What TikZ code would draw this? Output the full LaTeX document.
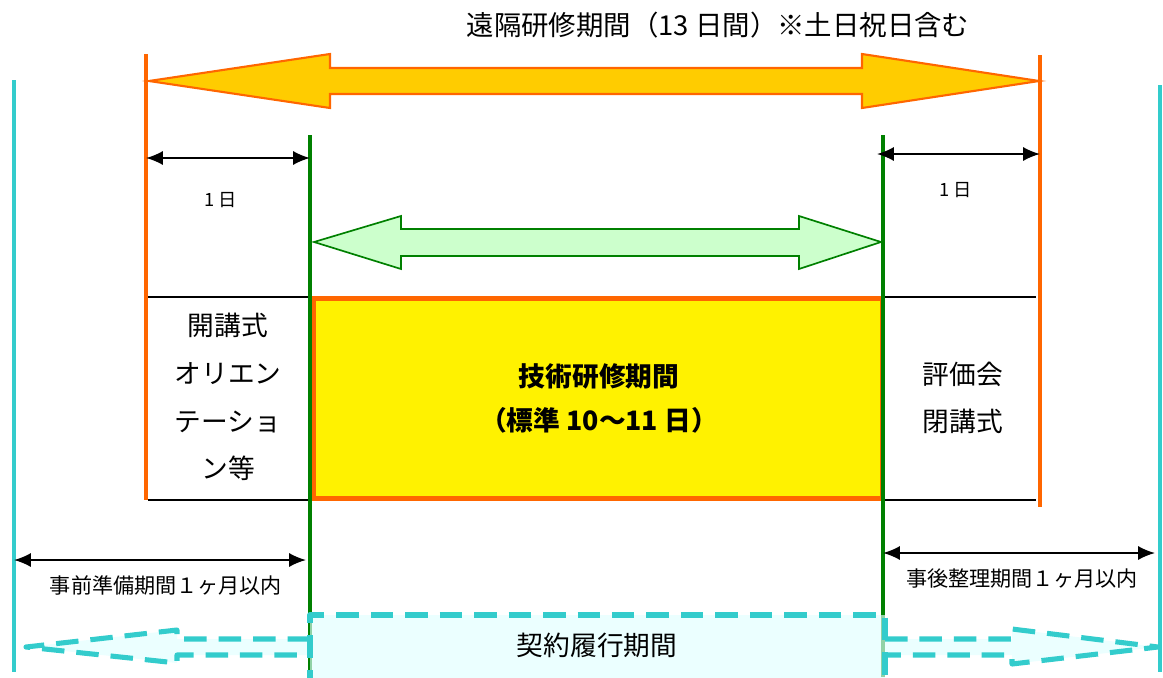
\documentclass[tikz,border=0pt]{standalone}
\usepackage{fontspec}
\setmainfont{Noto Sans CJK JP}
\usetikzlibrary{arrows.meta}
\definecolor{limitOrange}{HTML}{FF6600}
\definecolor{arrowGold}{HTML}{FFCC00}
\definecolor{techGreen}{HTML}{008000}
\definecolor{paleGreen}{HTML}{CCFFCC}
\definecolor{contractCyan}{HTML}{33CCCC}
\definecolor{paleCyan}{HTML}{E0FFFF}

\begin{document}
\begin{tikzpicture}[x=0.025cm,y=-0.025cm]
\tikzstyle{limit}=[line width=2.8pt]
\tikzstyle{span}=[black, line width=1.3pt, {Latex[length=12pt,width=10pt]}-{Latex[length=12pt,width=10pt]}]
\tikzstyle{dashbox}=[contractCyan, line width=3.6pt, line join=round, dash pattern=on 16pt off 8.5pt, fill=paleCyan, fill opacity=.65, draw opacity=1]
\useasboundingbox (0,0) rectangle (1163,677);

\node (title) at (718,25) {\fontsize{19.5}{23}\selectfont 遠隔研修期間（13 日間）※土日祝日含む};

% big arrow for the whole remote period
\draw[limitOrange, fill=arrowGold, line width=1.5pt, line join=miter]
  (149,81) -- (330,54) -- (330,68) -- (862,68) -- (862,54) -- (1039,81)
  -- (862,108) -- (862,94) -- (330,94) -- (330,108) -- cycle;

% row lines and the technical period box
\draw[black, line width=1.4pt] (148,297) -- (1036,297);
\draw[black, line width=1.4pt] (148,500) -- (1036,500);
\node (tech) [draw=limitOrange, line width=3pt, fill=yellow, minimum width=568*0.025cm, minimum height=200*0.025cm, inner sep=0pt] at (598,398.5) {};
\node (techT) at (599,376) {\fontsize{19}{22}\selectfont\bfseries 技術研修期間};
\node (techS) at (599,420) {\fontsize{19}{22}\selectfont\bfseries （標準 10〜11 日）};

\node (opening) [align=center, font=\fontsize{19}{34}\selectfont] at (228,397) {開講式\\オリエン\\テーショ\\ン等};
\node (closing) [align=center, font=\fontsize{19}{33}\selectfont] at (963,398) {評価会\\閉講式};

% vertical limits
\draw[limit, contractCyan] (14,80) -- (14,672);
\draw[limit, contractCyan] (1160,85) -- (1160,672);
\draw[limit, limitOrange] (146,54) -- (146,500);
\draw[limit, limitOrange] (1040,55) -- (1040,507);
\draw[limit, techGreen] (310,135) -- (310,677);
\draw[limit, techGreen] (883,135) -- (883,677);

% green arrow between the technical days
\draw[techGreen, fill=paleGreen, line width=1.2pt, line join=miter]
  (314,242) -- (401,216) -- (401,229) -- (799,229) -- (799,216) -- (881,242)
  -- (799,269) -- (799,256) -- (401,256) -- (401,269) -- cycle;

% one day spans
\coordinate (dayLa) at (146,158);
\coordinate (dayLb) at (310,158);
\coordinate (dayRa) at (877,154);
\coordinate (dayRb) at (1040,154);
\draw[span] (dayLa) -- (dayLb);
\draw[span] (dayRa) -- (dayRb);
\node (dayL) at (221,200) {\fontsize{13}{15}\selectfont 1 日};
\node (dayR) at (956,190) {\fontsize{13}{15}\selectfont 1 日};

% preparation and wrap-up
\coordinate (prepA) at (14,560);
\coordinate (prepB) at (306,560);
\coordinate (postA) at (883,553);
\coordinate (postB) at (1155,553);
\draw[span] (prepA) -- (prepB);
\draw[span] (postA) -- (postB);
\node (prep) at (166,585) {\fontsize{15}{17}\selectfont 事前準備期間１ヶ月以内};
\node (post) at (1022,579) {\fontsize{15}{17}\selectfont 事後整理期間１ヶ月以内};

% contract period
\draw[dashbox] (310,639) -- (177,639) -- (177,630) -- (26,647) -- (177,663) -- (177,655) -- (310,655);
\draw[dashbox] (885,639) -- (1012,639) -- (1012,629) -- (1158,647) -- (1012,664) -- (1012,655) -- (885,655);
\draw[dashbox] (310,692) -- (310,615) -- (885,615) -- (885,692);
\node (contract) at (597,645) {\fontsize{19}{22}\selectfont 契約履行期間};

\end{tikzpicture}
\end{document}
